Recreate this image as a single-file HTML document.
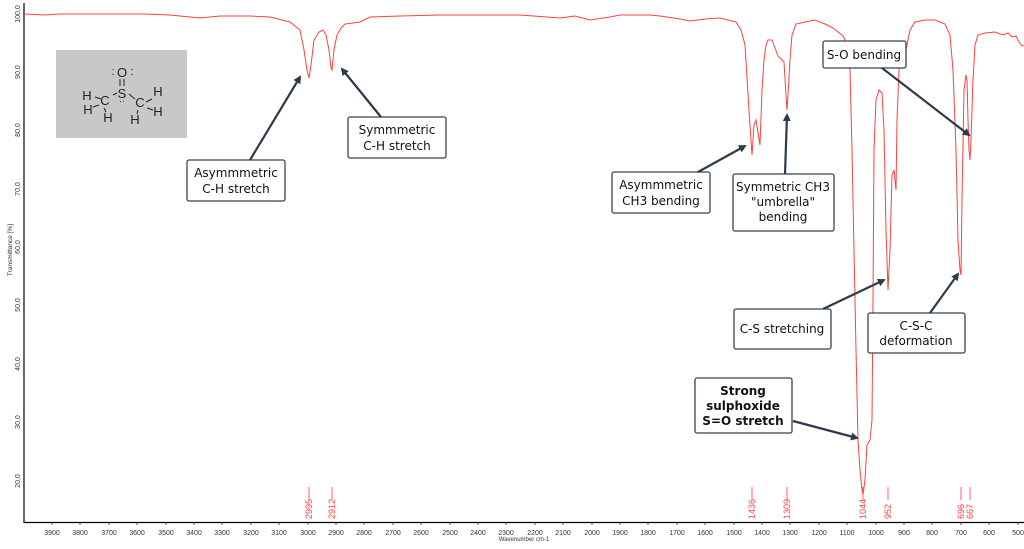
<!DOCTYPE html>
<html><head><meta charset="utf-8"><style>
html,body{margin:0;padding:0;background:#fff;}
svg{display:block;}
.b{fill:#fff;stroke:#3a4350;stroke-width:1.3;}
.t{font-family:"DejaVu Sans","Liberation Sans",sans-serif;font-size:12px;fill:#111;text-anchor:middle;}
.ar{stroke:#2f3a4a;stroke-width:2.2;fill:none;marker-end:url(#ah);}
.tk{font-family:"Liberation Sans",sans-serif;font-size:7px;fill:#333;text-anchor:middle;}
.pl{font-family:"Liberation Sans",sans-serif;font-size:9px;fill:#f44;}
</style></head><body>
<svg width="1024" height="549" viewBox="0 0 1024 549" xmlns="http://www.w3.org/2000/svg">
<defs><marker id="ah" markerWidth="8" markerHeight="8" refX="6" refY="4" orient="auto" markerUnits="userSpaceOnUse"><path d="M0,0 L8,4 L0,8 z" fill="#2f3a4a"/></marker></defs>
<line x1="24" y1="3" x2="24" y2="523" stroke="#000" stroke-width="1.2"/>
<line x1="24" y1="522.5" x2="1024" y2="522.5" stroke="#000" stroke-width="1.2"/>
<g font-family="Liberation Sans,sans-serif" font-size="7" fill="#333">
<text transform="translate(20,14) rotate(-90)" text-anchor="middle">100,0</text>
<text transform="translate(20,72) rotate(-90)" text-anchor="middle">90,0</text>
<text transform="translate(20,130) rotate(-90)" text-anchor="middle">80,0</text>
<text transform="translate(20,189) rotate(-90)" text-anchor="middle">70,0</text>
<text transform="translate(20,247) rotate(-90)" text-anchor="middle">60,0</text>
<text transform="translate(20,305) rotate(-90)" text-anchor="middle">50,0</text>
<text transform="translate(20,364) rotate(-90)" text-anchor="middle">40,0</text>
<text transform="translate(20,422) rotate(-90)" text-anchor="middle">30,0</text>
<text transform="translate(20,481) rotate(-90)" text-anchor="middle">20,0</text>
<text transform="translate(12,250) rotate(-90)" text-anchor="middle" font-size="6.5">Transmittance [%]</text>
</g>
<g class="tk">
<text x="52" y="535">3900</text><text x="80" y="535">3800</text><text x="109" y="535">3700</text><text x="137" y="535">3600</text><text x="166" y="535">3500</text><text x="194" y="535">3400</text><text x="222" y="535">3300</text><text x="251" y="535">3200</text><text x="279" y="535">3100</text><text x="308" y="535">3000</text><text x="336" y="535">2900</text><text x="364" y="535">2800</text><text x="393" y="535">2700</text><text x="421" y="535">2600</text><text x="450" y="535">2500</text><text x="478" y="535">2400</text><text x="506" y="535">2300</text><text x="535" y="535">2200</text><text x="563" y="535">2100</text><text x="592" y="535">2000</text><text x="620" y="535">1900</text><text x="648" y="535">1800</text><text x="677" y="535">1700</text><text x="705" y="535">1600</text><text x="734" y="535">1500</text><text x="762" y="535">1400</text><text x="790" y="535">1300</text><text x="819" y="535">1200</text><text x="847" y="535">1100</text><text x="876" y="535">1000</text><text x="904" y="535">900</text><text x="932" y="535">800</text><text x="961" y="535">700</text><text x="989" y="535">600</text><text x="1018" y="535">500</text>
<text x="524" y="541" font-size="6">Wavenumber cm-1</text>
</g>
<g stroke="#333" stroke-width="0.8">
<path d="M52,522v3M80,522v3M109,522v3M137,522v3M166,522v3M194,522v3M222,522v3M251,522v3M279,522v3M308,522v3M336,522v3M364,522v3M393,522v3M421,522v3M450,522v3M478,522v3M506,522v3M535,522v3M563,522v3M592,522v3M620,522v3M648,522v3M677,522v3M705,522v3M734,522v3M762,522v3M790,522v3M819,522v3M847,522v3M876,522v3M904,522v3M932,522v3M961,522v3M989,522v3M1018,522v3"/>
</g>
<polyline fill="none" stroke="#ff4040" stroke-width="1" points="24,14 45,15 60,14 90,14 120,14 145,14 170,15 200,18 220,16 250,16 270,17 290,22 300,30 304,50 307,70 309,78 311,65 314,40 319,32 323,30 326,35 329,50 331,68 332,70 334,50 337,35 341,28 345,24 360,22 370,17 400,16 440,15 480,15 520,15 560,18 575,16 590,20 610,17 620,15 650,15 660,16 680,19 690,21 705,19 720,18 736,22 741,30 745,45 749,110 752,155 754,125 756,120 758,133 760,145 762,90 764,60 766,45 768,40 772,40 775,48 778,56 782,60 784,62 786,95 787,110 788,95 790,60 792,35 796,24 805,22 815,20 825,24 833,28 843,36 846,42 850,70 852,150 854,250 856,350 858,440 860,470 862,490 863,495 865,480 867,445 870,440 872,420 873,300 874,150 876,100 879,90 882,93 884,130 886,230 888,290 890,250 892,175 894,170 896,190 897,120 899,70 902,55 905,55 910,30 915,22 925,20 935,20 945,24 950,35 953,70 956,150 958,240 960,270 961,275 962,200 964,90 966,75 967,80 968,120 969,150 970,160 971,140 973,80 975,45 978,35 985,33 995,32 1003,35 1008,33 1012,37 1016,36 1019,42 1022,46 1024,45"/>
<g stroke="#ff6060" stroke-width="1">
<path d="M309,487v13M332,487v13M752,487v13M787,487v13M863,487v13M888,487v13M961,487v13M970,487v13"/>
</g>
<g class="pl">
<text transform="translate(312,519) rotate(-90)">2995</text>
<text transform="translate(335,519) rotate(-90)">2912</text>
<text transform="translate(755,519) rotate(-90)">1436</text>
<text transform="translate(790,519) rotate(-90)">1309</text>
<text transform="translate(866,519) rotate(-90)">1044</text>
<text transform="translate(891,519) rotate(-90)">952</text>
<text transform="translate(964,519) rotate(-90)">696</text>
<text transform="translate(973,519) rotate(-90)">667</text>
</g>
<rect x="56" y="50" width="131" height="88" fill="#c8c8c8"/>
<g font-family="Liberation Sans,sans-serif" font-size="13" fill="#222" text-anchor="middle">
<text x="122" y="77">O</text><text x="113" y="75" font-size="11">:</text><text x="132" y="75" font-size="11">:</text>
<text x="122" y="98">S</text><text x="122" y="104" font-size="9">··</text>
<text x="105" y="105">C</text><text x="140" y="107">C</text>
<text x="87" y="100">H</text><text x="88" y="114">H</text><text x="108" y="122">H</text>
<text x="158" y="96">H</text><text x="158" y="116">H</text><text x="135" y="124">H</text>
</g>
<g stroke="#222" stroke-width="1"><path d="M120,79v7M124,79v7M95,97l6,2M113,95l4,-2M129,94l6,5M146,102l6,-3M147,108l6,2M138,110l-1,4M104,108l2,4M93,107l6,-2"/></g>
<rect class="b" x="187" y="160" width="98" height="41" rx="2"/>
<text class="t" x="236" y="177">Asymmmetric</text><text class="t" x="236" y="193">C-H stretch</text>
<line class="ar" x1="250" y1="160" x2="300" y2="77"/>
<rect class="b" x="348" y="117" width="98" height="41" rx="2"/>
<text class="t" x="397" y="134">Symmmetric</text><text class="t" x="397" y="150">C-H stretch</text>
<line class="ar" x1="381" y1="117" x2="342" y2="69"/>
<rect class="b" x="612" y="172" width="98" height="41" rx="2"/>
<text class="t" x="661" y="189">Asymmmetric</text><text class="t" x="661" y="205">CH3 bending</text>
<line class="ar" x1="698" y1="172" x2="745" y2="146"/>
<rect class="b" x="733" y="174" width="101" height="57" rx="2"/>
<text class="t" x="783" y="191">Symmetric CH3</text><text class="t" x="783" y="206">"umbrella"</text><text class="t" x="783" y="221">bending</text>
<line class="ar" x1="785" y1="174" x2="787" y2="115"/>
<rect class="b" x="823" y="41" width="83" height="27" rx="2"/>
<text class="t" x="864" y="59">S-O bending</text>
<line class="ar" x1="882" y1="68" x2="969" y2="135"/>
<rect class="b" x="734" y="309" width="97" height="40" rx="2"/>
<text class="t" x="782" y="333">C-S stretching</text>
<line class="ar" x1="823" y1="309" x2="884" y2="280"/>
<rect class="b" x="868" y="313" width="97" height="40" rx="2"/>
<text class="t" x="916" y="330">C-S-C</text><text class="t" x="916" y="345">deformation</text>
<line class="ar" x1="930" y1="313" x2="958" y2="274"/>
<rect class="b" x="695" y="378" width="97" height="55" rx="2"/>
<text class="t" x="743" y="395" font-weight="bold">Strong</text><text class="t" x="743" y="410" font-weight="bold">sulphoxide</text><text class="t" x="743" y="425" font-weight="bold">S=O stretch</text>
<line class="ar" x1="793" y1="421" x2="857" y2="438"/>
</svg>
</body></html>
